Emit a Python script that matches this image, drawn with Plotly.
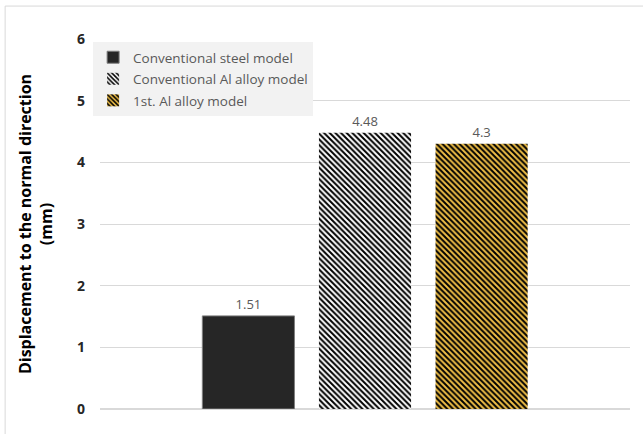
import plotly.graph_objects as go

# Normal-direction displacement for each model (mm)
categories = ["Displacement"]
series_names = ["Conventional steel model", "Conventional Al alloy model", "1st. Al alloy model"]
steel_values = [1.51]
al_values = [4.48]
first_al_values = [4.3]
y_ticks = [0, 1, 2, 3, 4, 5, 6]

label_font = dict(family="Open Sans", size=13, color="#595959")

fig = go.Figure()

fig.add_trace(go.Bar(
    x=categories, y=steel_values, name=series_names[0], legendgroup="a",
    marker=dict(color="#262626", line=dict(color="#7f7f7f", width=1)),
    text=steel_values, texttemplate="%{y}", textposition="outside",
    textfont=label_font, cliponaxis=False,
))
fig.add_trace(go.Bar(
    x=categories, y=al_values, name=series_names[1], legendgroup="b",
    marker=dict(color="white", line=dict(width=0),
                pattern=dict(shape="\\", fgcolor="black", bgcolor="white",
                             size=4, solidity=0.5, fillmode="replace")),
    text=al_values, texttemplate="%{y}", textposition="outside",
    textfont=label_font, cliponaxis=False,
))
fig.add_trace(go.Bar(
    x=categories, y=first_al_values, name=series_names[2], legendgroup="c",
    marker=dict(color="#f0bf47", line=dict(width=0),
                pattern=dict(shape="\\", fgcolor="black", bgcolor="#f0bf47",
                             size=4, solidity=0.5, fillmode="replace")),
    text=first_al_values, texttemplate="%{y}", textposition="outside",
    textfont=label_font, cliponaxis=False,
))

# Outer chart frame
fig.add_shape(type="rect", xref="paper", yref="paper",
              x0=-0.179, y0=-0.09, x1=1.03, y1=1.089,
              line=dict(color="#d9d9d9", width=1), fillcolor="rgba(0,0,0,0)", layer="below")

fig.update_layout(
    width=643, height=434,
    margin=dict(l=100, r=13, t=39, b=25),
    paper_bgcolor="white", plot_bgcolor="white",
    barmode="group", bargap=0.34, bargroupgap=0.21,
    showlegend=True,
    legend=dict(x=-0.013, y=0.992, xanchor="left", yanchor="top",
                bgcolor="#f2f2f2", borderwidth=0, tracegroupgap=1, itemwidth=30,
                font=dict(family="Open Sans", size=13.5, color="#595959")),
    xaxis=dict(showticklabels=False, showgrid=False, zeroline=False, showline=False),
    yaxis=dict(range=[0, 6], tickvals=y_ticks, showgrid=True, gridcolor="#d9d9d9",
               gridwidth=1, zeroline=True, zerolinecolor="#d9d9d9", showline=False,
               ticks="", ticklabelstandoff=14,
               tickfont=dict(family="Open Sans", size=14, color="#262626", weight="bold"),
               title=dict(text="Displacement to the normal direction<br>(mm)",
                          font=dict(family="Open Sans", size=16, color="black", weight="bold"),
                          standoff=20)),
)

fig.write_html("out.html")
